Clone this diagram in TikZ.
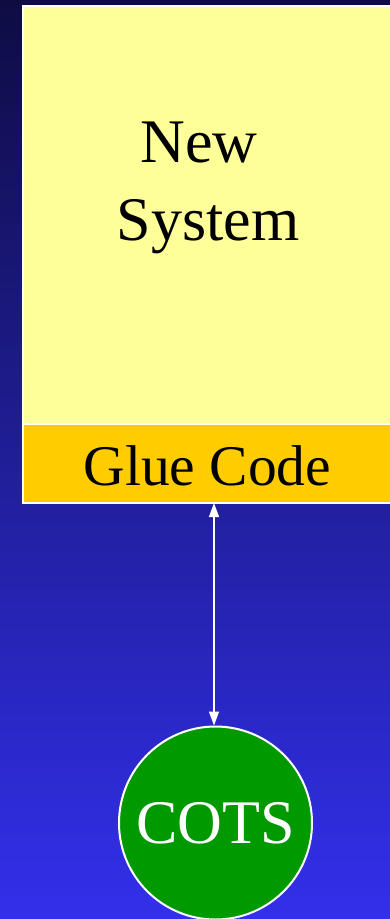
\documentclass[tikz,border=0pt]{standalone}
\usepackage{fontspec}
\setmainfont{Liberation Serif}
\usetikzlibrary{arrows.meta}
\definecolor{bgtop}{RGB}{14,12,66}
\definecolor{bgbottom}{RGB}{50,48,236}
\definecolor{newyellow}{RGB}{255,255,153}
\definecolor{glueorange}{RGB}{255,204,0}
\definecolor{cotsgreen}{RGB}{0,153,0}
\tikzset{
    panel/.style={draw=white, line width=1.5pt},
    link/.style={draw=white, line width=1.3pt, {Triangle[width=10pt,length=14pt]}-{Triangle[width=10pt,length=14pt]}}
}
\begin{document}
\begin{tikzpicture}[x=1pt, y=-1pt]
        % background
        \useasboundingbox (0,0) rectangle (389,919);
        \shade[top color=bgtop, bottom color=bgbottom] (-5,-5) rectangle (400,925);

        % new system and glue code
        \fill[newyellow, panel] (23,6) rectangle (420,424);
        \fill[glueorange, panel] (23,424) rectangle (420,503);
        \node[align=center, font=\fontsize{62}{78}\selectfont, inner sep=0pt] (newsys) at (208,188) {New\hspace*{18pt}\\System};
        \node[font=\fontsize{57.5}{60}\selectfont, inner sep=0pt] (glue) at (207.5,466) {Glue Code};
        \coordinate (gluebot) at (214,503);

        % cots
        \node[circle, fill=cotsgreen, draw=white, line width=2pt, minimum size=193pt, inner sep=0pt,
              text=white, font=\fontsize{62}{62}\selectfont] (cots) at (215.5,823) {COTS};

        % connector
        \draw[link] (gluebot) -- (cots.north -| gluebot);
    \end{tikzpicture}
\end{document}
